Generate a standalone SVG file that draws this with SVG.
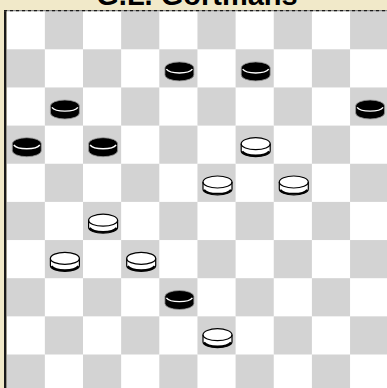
<svg xmlns="http://www.w3.org/2000/svg" xmlns:xlink="http://www.w3.org/1999/xlink" width="387" height="388" viewBox="0 0 387 388">
<style>
.sq{fill:#d3d3d3}
.title{font-family:"Liberation Sans",Arial,sans-serif;font-weight:bold;font-size:29px;fill:#000}
</style>
<defs>
<g id="bp">
<path d="M-14.5,-3.5 A14.5,6 0 0 1 14.5,-3.5 L14.5,3.5 A14.5,6 0 0 1 -14.5,3.5 Z" fill="#000" stroke="#999" stroke-width="0.8"/>
<path d="M-13,-2.2 A13.5,5.2 0 0 0 13,-2.2" fill="none" stroke="#fff" stroke-width="1.4"/>
</g>
<g id="wp">
<path d="M-14.5,-3.5 A14.5,6 0 0 1 14.5,-3.5 L14.5,3.5 A14.5,6 0 0 1 -14.5,3.5 Z" fill="#fff" stroke="#000" stroke-width="1.2"/>
<path d="M-14.5,-3.5 A14.5,6 0 0 0 14.5,-3.5" fill="none" stroke="#000" stroke-width="1.2"/>
<path d="M13.5,4.2 A14,5.6 0 0 1 -13.5,4.2" fill="none" stroke="#000" stroke-width="2"/>
</g>
</defs>
<rect width="387" height="388" fill="#f1e9c9"/>
<text class="title" x="197" y="5" text-anchor="middle">G.L. Gortmans</text>
<g id="board">
<rect x="6.7" y="11.15" width="381" height="381" fill="#fff"/>
<rect class="sq" x="44.85" y="11.15" width="38.15" height="38.15"/><rect class="sq" x="121.15" y="11.15" width="38.15" height="38.15"/><rect class="sq" x="197.45" y="11.15" width="38.15" height="38.15"/><rect class="sq" x="273.75" y="11.15" width="38.15" height="38.15"/><rect class="sq" x="350.05" y="11.15" width="38.15" height="38.15"/>
<rect class="sq" x="6.7" y="49.3" width="38.15" height="38.15"/><rect class="sq" x="83" y="49.3" width="38.15" height="38.15"/><rect class="sq" x="159.3" y="49.3" width="38.15" height="38.15"/><rect class="sq" x="235.6" y="49.3" width="38.15" height="38.15"/><rect class="sq" x="311.9" y="49.3" width="38.15" height="38.15"/>
<rect class="sq" x="44.85" y="87.45" width="38.15" height="38.15"/><rect class="sq" x="121.15" y="87.45" width="38.15" height="38.15"/><rect class="sq" x="197.45" y="87.45" width="38.15" height="38.15"/><rect class="sq" x="273.75" y="87.45" width="38.15" height="38.15"/><rect class="sq" x="350.05" y="87.45" width="38.15" height="38.15"/>
<rect class="sq" x="6.7" y="125.6" width="38.15" height="38.15"/><rect class="sq" x="83" y="125.6" width="38.15" height="38.15"/><rect class="sq" x="159.3" y="125.6" width="38.15" height="38.15"/><rect class="sq" x="235.6" y="125.6" width="38.15" height="38.15"/><rect class="sq" x="311.9" y="125.6" width="38.15" height="38.15"/>
<rect class="sq" x="44.85" y="163.75" width="38.15" height="38.15"/><rect class="sq" x="121.15" y="163.75" width="38.15" height="38.15"/><rect class="sq" x="197.45" y="163.75" width="38.15" height="38.15"/><rect class="sq" x="273.75" y="163.75" width="38.15" height="38.15"/><rect class="sq" x="350.05" y="163.75" width="38.15" height="38.15"/>
<rect class="sq" x="6.7" y="201.9" width="38.15" height="38.15"/><rect class="sq" x="83" y="201.9" width="38.15" height="38.15"/><rect class="sq" x="159.3" y="201.9" width="38.15" height="38.15"/><rect class="sq" x="235.6" y="201.9" width="38.15" height="38.15"/><rect class="sq" x="311.9" y="201.9" width="38.15" height="38.15"/>
<rect class="sq" x="44.85" y="240.05" width="38.15" height="38.15"/><rect class="sq" x="121.15" y="240.05" width="38.15" height="38.15"/><rect class="sq" x="197.45" y="240.05" width="38.15" height="38.15"/><rect class="sq" x="273.75" y="240.05" width="38.15" height="38.15"/><rect class="sq" x="350.05" y="240.05" width="38.15" height="38.15"/>
<rect class="sq" x="6.7" y="278.2" width="38.15" height="38.15"/><rect class="sq" x="83" y="278.2" width="38.15" height="38.15"/><rect class="sq" x="159.3" y="278.2" width="38.15" height="38.15"/><rect class="sq" x="235.6" y="278.2" width="38.15" height="38.15"/><rect class="sq" x="311.9" y="278.2" width="38.15" height="38.15"/>
<rect class="sq" x="44.85" y="316.35" width="38.15" height="38.15"/><rect class="sq" x="121.15" y="316.35" width="38.15" height="38.15"/><rect class="sq" x="197.45" y="316.35" width="38.15" height="38.15"/><rect class="sq" x="273.75" y="316.35" width="38.15" height="38.15"/><rect class="sq" x="350.05" y="316.35" width="38.15" height="38.15"/>
<rect class="sq" x="6.7" y="354.5" width="38.15" height="38.15"/><rect class="sq" x="83" y="354.5" width="38.15" height="38.15"/><rect class="sq" x="159.3" y="354.5" width="38.15" height="38.15"/><rect class="sq" x="235.6" y="354.5" width="38.15" height="38.15"/><rect class="sq" x="311.9" y="354.5" width="38.15" height="38.15"/>
</g>
<g id="frame">
<rect x="4" y="10" width="2.4" height="378" fill="#1a1a1a"/>
<line x1="4" y1="10.6" x2="387" y2="10.6" stroke="#8a8a8a" stroke-width="1.2"/>
<line x1="4" y1="10.6" x2="387" y2="10.6" stroke="#1a1a1a" stroke-width="1.2" stroke-dasharray="3 3"/>
</g>
<g id="pieces">
<g id="b1"><use xlink:href="#bp" x="179.4" y="71.4"/></g>
<g id="b2"><use xlink:href="#bp" x="255.7" y="71.4"/></g>
<g id="b3"><use xlink:href="#bp" x="64.9" y="109.5"/></g>
<g id="b4"><use xlink:href="#bp" x="370.1" y="109.5"/></g>
<g id="b5"><use xlink:href="#bp" x="26.8" y="147.2"/></g>
<g id="b6"><use xlink:href="#bp" x="103.1" y="147.2"/></g>
<g id="b7"><use xlink:href="#bp" x="179.4" y="300"/></g>
<g id="w1"><use xlink:href="#wp" x="255.7" y="147.2"/></g>
<g id="w2"><use xlink:href="#wp" x="217.5" y="185.5"/></g>
<g id="w3"><use xlink:href="#wp" x="293.8" y="185.5"/></g>
<g id="w4"><use xlink:href="#wp" x="103.1" y="223.7"/></g>
<g id="w5"><use xlink:href="#wp" x="64.9" y="261.9"/></g>
<g id="w6"><use xlink:href="#wp" x="141.2" y="261.9"/></g>
<g id="w7"><use xlink:href="#wp" x="217.5" y="338.2"/></g>
</g>
</svg>
